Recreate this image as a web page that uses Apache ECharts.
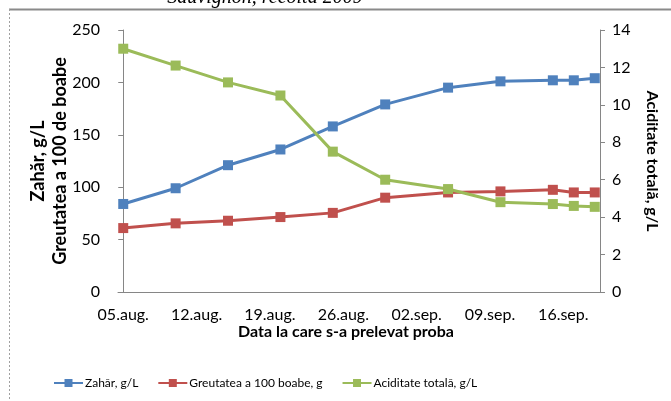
<!DOCTYPE html>
<html>
<head>
<meta charset="utf-8">
<script src="https://cdn.jsdelivr.net/npm/echarts@6/dist/echarts.min.js"></script>
<style>html,body{margin:0;padding:0;background:#fff}#c{width:671px;height:401px}</style>
</head>
<body>
<div id="c"></div>
<script>
var sampleDates = ['2009-08-05','2009-08-10','2009-08-15','2009-08-20','2009-08-25','2009-08-30','2009-09-05','2009-09-10','2009-09-15','2009-09-17','2009-09-19'];
var zahar = [84, 99, 121, 136, 158, 179, 195, 201, 202, 202, 204];
var greutatea = [61, 65.5, 68, 71.5, 75.5, 90, 95, 96, 97.5, 95, 95];
var aciditate = [13.0, 12.1, 11.2, 10.5, 7.5, 6.0, 5.5, 4.8, 4.7, 4.6, 4.55];
var tickDates = ['2009-08-05','2009-08-12','2009-08-19','2009-08-26','2009-09-02','2009-09-09','2009-09-16'];
var monthNames = ['ian','feb','mar','apr','mai','iun','iul','aug','sep','oct','nov','dec'];
var seriesNames = ['Zahăr, g/L', 'Greutatea a 100 boabe, g', 'Aciditate totală, g/L'];

var DAY = 86400000;
var startMs = Date.parse(sampleDates[0] + 'T00:00:00Z');
function dayOf(s) { return Math.round((Date.parse(s + 'T00:00:00Z') - startMs) / DAY); }
function fmt(day) {
  var d = new Date(startMs + day * DAY);
  var dd = d.getUTCDate();
  return (dd < 10 ? '0' : '') + dd + '.' + monthNames[d.getUTCMonth()] + '.';
}
function pairs(vals) { return vals.map(function (v, i) { return [dayOf(sampleDates[i]), v]; }); }

var FONT = 'Lato';
var axisGray = '#868686';
var chart = echarts.init(document.getElementById('c'), null, {renderer: 'canvas'});
var mkSeries = function (name, data, color, yIdx) {
  return {
    name: name, type: 'line', yAxisIndex: yIdx, data: pairs(data),
    symbol: 'rect', symbolSize: 10,
    lineStyle: {color: color, width: 3},
    itemStyle: {color: color},
    animation: false
  };
};
chart.setOption({
  animation: false,
  textStyle: {fontFamily: FONT},
  grid: {left: 118, right: 71, top: 30, bottom: 109, containLabel: false},
  graphic: [
    {type: 'line', shape: {x1: 9, y1: 9.5, x2: 671, y2: 9.5}, style: {stroke: '#8a8a8a', lineWidth: 2}},
    {type: 'line', shape: {x1: 9.5, y1: 9, x2: 9.5, y2: 401}, style: {stroke: '#a0a0a0', lineWidth: 1, lineDash: [2, 2]}},
    {type: 'text', x: 265, y: -12, style: {text: 'Sauvignon, recolta 2009', font: 'italic 20px "Liberation Serif"', fill: '#000', textAlign: 'center', textVerticalAlign: 'top'}}
  ],
  legend: {
    top: 372, left: 48, itemGap: 19, itemWidth: 29, itemHeight: 10,
    textStyle: {fontFamily: FONT, fontSize: 12, color: '#000', padding: [0, 0, 0, -3]},
    data: seriesNames
  },
  xAxis: {
    type: 'value', min: -0.5, max: 45.5,
    name: 'Data la care s-a prelevat proba', nameLocation: 'middle', nameGap: 32, nameMoveOverlap: false,
    nameTextStyle: {fontFamily: FONT, fontSize: 16, fontWeight: 'bold', color: '#000', padding: [0, 26, 0, 0]},
    axisLine: {lineStyle: {color: axisGray}},
    axisTick: {show: false},
    splitLine: {show: false},
    axisLabel: {
      customValues: tickDates.map(dayOf),
      formatter: function (v) { return fmt(v); },
      fontFamily: FONT, fontSize: 16, color: '#000', margin: 15
    }
  },
  yAxis: [
    {
      type: 'value', min: 0, max: 250, interval: 50, position: 'left',
      name: 'Zahăr, g/L\nGreutatea a 100 de boabe', nameLocation: 'middle', nameGap: 47, nameRotate: 90, nameMoveOverlap: false,
      nameTextStyle: {fontFamily: FONT, fontSize: 18, fontWeight: 'bold', color: '#000', lineHeight: 22},
      axisLine: {show: true, lineStyle: {color: axisGray}},
      axisTick: {show: true, length: 5, lineStyle: {color: axisGray}},
      splitLine: {show: false},
      axisLabel: {fontFamily: FONT, fontSize: 16, color: '#000', margin: 18}
    },
    {
      type: 'value', min: 0, max: 14, interval: 2, position: 'right',
      name: 'Aciditate totală, g/L', nameLocation: 'middle', nameGap: 44, nameRotate: -90, nameMoveOverlap: false,
      nameTextStyle: {fontFamily: FONT, fontSize: 16, fontWeight: 'bold', color: '#000'},
      axisLine: {show: true, lineStyle: {color: axisGray}},
      axisTick: {show: true, length: 5, lineStyle: {color: axisGray}},
      splitLine: {show: false},
      axisLabel: {fontFamily: FONT, fontSize: 16, color: '#000', margin: 12}
    }
  ],
  series: [
    mkSeries(seriesNames[0], zahar, '#4F81BD', 0),
    mkSeries(seriesNames[1], greutatea, '#C0504D', 0),
    mkSeries(seriesNames[2], aciditate, '#9BBB59', 1)
  ]
});
</script>
</body>
</html>
